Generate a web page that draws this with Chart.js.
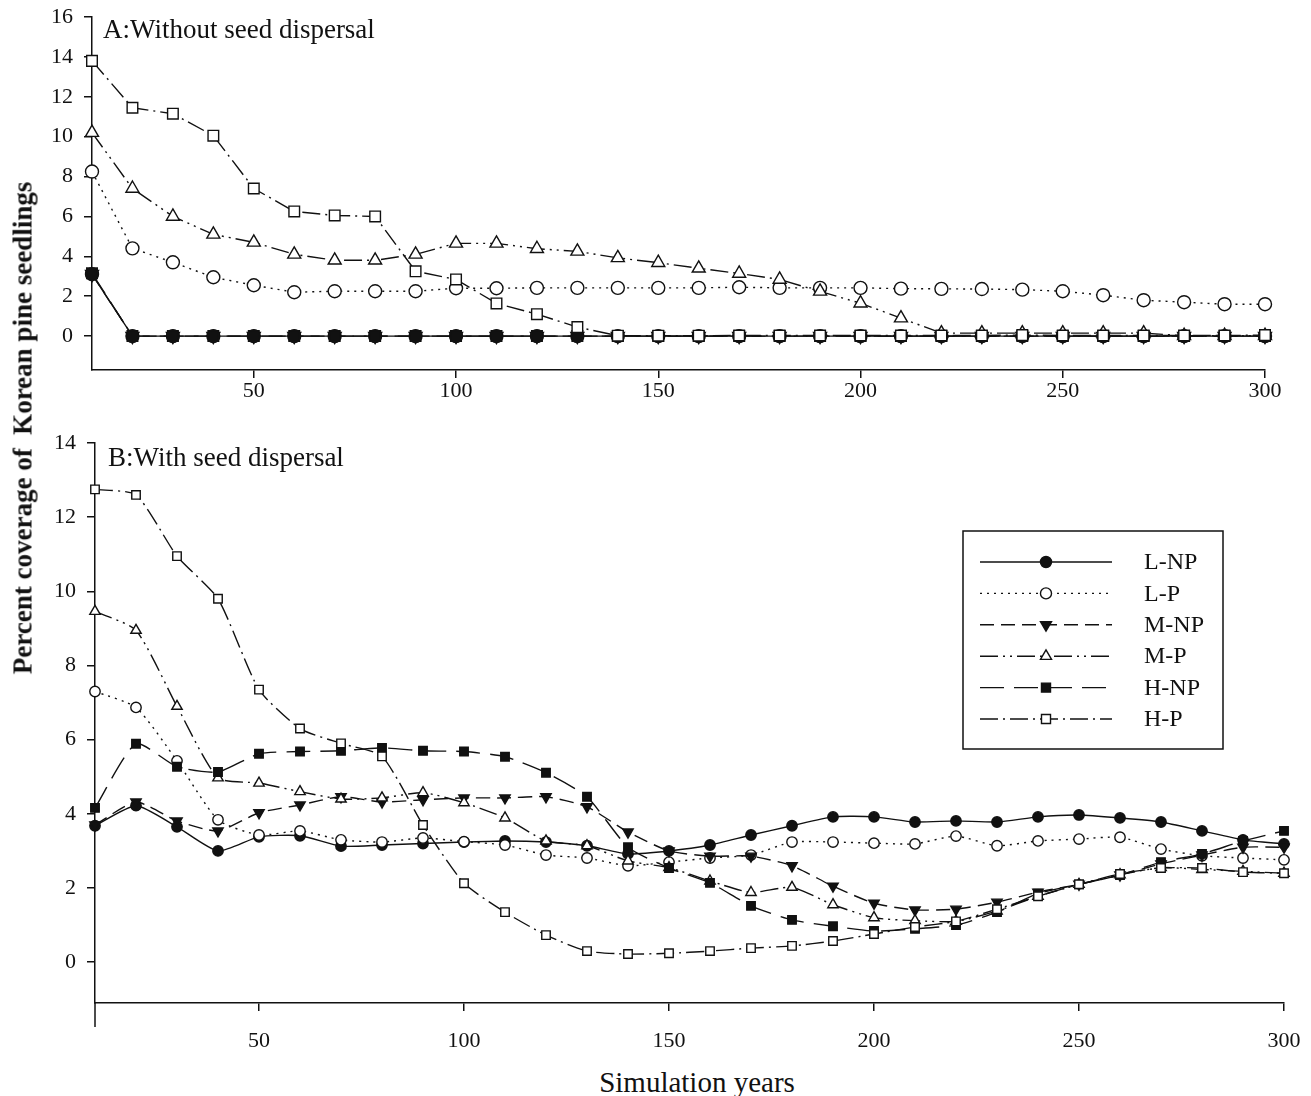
<!DOCTYPE html>
<html>
<head>
<meta charset="utf-8">
<script src="https://cdn.jsdelivr.net/npm/chart.js@4.4.1/dist/chart.umd.min.js"></script>
<style>
  body { margin: 0; background: #fff; }
  #wrap { position: relative; width: 1311px; height: 1096px; font-family: "Liberation Serif", "Times New Roman", serif; color: #111; }
  canvas { position: absolute; left: 0; }
  .lbl { position: absolute; white-space: nowrap; line-height: 1; }
</style>
</head>
<body>
<div id="wrap">
  <canvas id="chartA" width="1311" height="415" style="top:0"></canvas>
  <canvas id="chartB" width="1311" height="640" style="top:425px"></canvas>
  <div class="lbl" style="left:103px; top:16px; font-size:27px;">A:Without seed dispersal</div>
  <div class="lbl" style="left:108px; top:444px; font-size:27px;">B:With seed dispersal</div>
  <div class="lbl" style="left:23px; top:428px; font-size:27px; font-weight:bold; transform: translate(-50%, -50%) rotate(-90deg);">Percent coverage of&nbsp; Korean pine seedlings</div>
  <div class="lbl" style="left:697px; top:1082px; font-size:29px; transform: translate(-50%, -50%);">Simulation years</div>
</div>
<script>
// simulation years (x)
const years = [10, 20, 30, 40, 50, 60, 70, 80, 90, 100, 110, 120, 130, 140, 150,
               160, 170, 180, 190, 200, 210, 220, 230, 240, 250, 260, 270, 280, 290, 300];
const seriesNames = ['L-NP', 'L-P', 'M-NP', 'M-P', 'H-NP', 'H-P'];
const xTicks = [50, 100, 150, 200, 250, 300];
const yTicksA = [0, 2, 4, 6, 8, 10, 12, 14, 16];
const yTicksB = [0, 2, 4, 6, 8, 10, 12, 14];

// A: without seed dispersal
const aLNP = [3.1, 0, 0, 0, 0, 0, 0, 0, 0, 0, 0, 0, 0, 0, 0, 0, 0, 0, 0, 0, 0, 0, 0, 0, 0, 0, 0, 0, 0, 0];
const aLP  = [8.25, 4.4, 3.7, 2.95, 2.55, 2.2, 2.25, 2.25, 2.25, 2.4, 2.4, 2.42, 2.42, 2.42, 2.42,
              2.42, 2.45, 2.42, 2.42, 2.42, 2.38, 2.37, 2.36, 2.33, 2.25, 2.05, 1.8, 1.7, 1.6, 1.6];
const aMNP = [3.1, 0, 0, 0, 0, 0, 0, 0, 0, 0, 0, 0, 0, 0, 0, 0, 0, 0, 0, 0, 0, 0, 0, 0, 0, 0, 0, 0, 0, 0];
const aMP  = [10.2, 7.4, 6.0, 5.1, 4.7, 4.1, 3.8, 3.8, 4.1, 4.65, 4.65, 4.38, 4.25, 3.92, 3.68,
              3.4, 3.14, 2.84, 2.24, 1.65, 0.9, 0.15, 0.15, 0.15, 0.15, 0.15, 0.15, 0.02, 0.02, 0.02];
const aHNP = [3.15, 0, 0, 0, 0, 0, 0, 0, 0, 0, 0, 0, 0, 0, 0, 0, 0, 0, 0, 0, 0, 0, 0, 0, 0, 0, 0, 0, 0, 0];
const aHP  = [13.8, 11.45, 11.15, 10.05, 7.4, 6.25, 6.05, 6.0, 3.25, 2.84, 1.64, 1.1, 0.45, 0.02, 0.02,
              0.02, 0.03, 0.03, 0.03, 0.03, 0.03, 0.03, 0.03, 0.05, 0.03, 0.03, 0.03, 0.03, 0.03, 0.05];

// B: with seed dispersal
const bLNP = [3.68, 4.22, 3.65, 3.0, 3.38, 3.41, 3.13, 3.16, 3.2, 3.24, 3.27, 3.24, 3.14, 2.92, 3.0,
              3.16, 3.43, 3.68, 3.92, 3.92, 3.78, 3.81, 3.78, 3.92, 3.97, 3.89, 3.78, 3.54, 3.3, 3.19];
const bLP  = [7.3, 6.87, 5.43, 3.84, 3.43, 3.54, 3.3, 3.24, 3.35, 3.25, 3.16, 2.89, 2.81, 2.6, 2.7,
              2.81, 2.89, 3.24, 3.24, 3.21, 3.19, 3.4, 3.14, 3.27, 3.32, 3.37, 3.05, 2.87, 2.81, 2.76];
const bMNP = [3.7, 4.32, 3.81, 3.54, 4.03, 4.24, 4.46, 4.32, 4.38, 4.43, 4.43, 4.46, 4.19, 3.51, 3.0,
              2.86, 2.86, 2.6, 2.05, 1.59, 1.41, 1.43, 1.62, 1.89, 2.1, 2.35, 2.65, 2.89, 3.1, 3.1];
const bMP  = [9.46, 8.95, 6.9, 4.97, 4.83, 4.6, 4.4, 4.43, 4.57, 4.3, 3.89, 3.27, 3.14, 2.73, 2.55,
              2.19, 1.88, 2.02, 1.55, 1.2, 1.12, 1.1, 1.38, 1.78, 2.1, 2.36, 2.55, 2.5, 2.45, 2.4];
const bHNP = [4.16, 5.89, 5.27, 5.13, 5.62, 5.68, 5.7, 5.78, 5.7, 5.68, 5.54, 5.11, 4.46, 3.1, 2.54,
              2.14, 1.52, 1.14, 0.97, 0.84, 0.9, 1.0, 1.35, 1.85, 2.1, 2.35, 2.7, 2.92, 3.27, 3.54];
const bHP  = [12.75, 12.6, 10.95, 9.8, 7.35, 6.3, 5.9, 5.55, 3.7, 2.13, 1.35, 0.73, 0.3, 0.22, 0.24,
              0.3, 0.38, 0.44, 0.57, 0.76, 0.95, 1.1, 1.43, 1.78, 2.1, 2.38, 2.54, 2.54, 2.43, 2.4];

// line / marker style per series
const styles = [
  { shape: 'circle',   rot: 0,   filled: true,  dash: [],                  r: 6.5 },
  { shape: 'circle',   rot: 0,   filled: false, dash: [2, 5],              r: 6.5 },
  { shape: 'triangle', rot: 180, filled: true,  dash: [14, 7],             r: 7.5 },
  { shape: 'triangle', rot: 0,   filled: false, dash: [18, 5, 2, 5, 2, 5], r: 7.5 },
  { shape: 'rect',     rot: 0,   filled: true,  dash: [24, 10],            r: 7.5 },
  { shape: 'rect',     rot: 0,   filled: false, dash: [18, 5, 2, 5],       r: 7.5 }
];

const FONT = '"Liberation Serif", "Times New Roman", serif';
const INK = '#111';

function buildDatasets(seriesList, scale, tension) {
  return seriesList.map((vals, i) => {
    const s = styles[i];
    return {
      label: seriesNames[i],
      data: vals.map((v, k) => ({ x: years[k], y: v })),
      order: seriesList.length - i, // later series drawn on top, as in the original
      borderColor: INK,
      borderWidth: 1.4,
      borderDash: s.dash,
      tension: tension,
      pointStyle: s.shape,
      pointRotation: s.rot,
      pointRadius: s.r * scale,
      pointBorderWidth: 1.4,
      pointBorderColor: INK,
      pointBackgroundColor: s.filled ? INK : '#fff',
      clip: false
    };
  });
}

// draws a marker like chart.js does, used for the legend
function marker(ctx, s, x, y, r) {
  ctx.save();
  ctx.setLineDash([]);
  ctx.lineWidth = 1.4;
  ctx.strokeStyle = INK;
  ctx.fillStyle = s.filled ? INK : '#fff';
  ctx.beginPath();
  if (s.shape === 'circle') {
    ctx.arc(x, y, r, 0, Math.PI * 2);
  } else if (s.shape === 'rect') {
    const h = r * Math.SQRT1_2;
    ctx.rect(x - h, y - h, 2 * h, 2 * h);
  } else {
    let a = s.rot * Math.PI / 180;
    for (let k = 0; k < 3; k++) {
      const px = x + Math.sin(a) * r, py = y - Math.cos(a) * r;
      if (k === 0) ctx.moveTo(px, py); else ctx.lineTo(px, py);
      a += 2 * Math.PI / 3;
    }
    ctx.closePath();
  }
  ctx.fill();
  ctx.stroke();
  ctx.restore();
}

const legendBox = {
  id: 'legendBox',
  afterDraw(chart) {
    const ctx = chart.ctx;
    ctx.save();
    ctx.strokeStyle = INK;
    ctx.lineWidth = 1.5;
    ctx.strokeRect(963, 106, 260, 218);
    ctx.font = '24px ' + FONT;
    ctx.fillStyle = INK;
    ctx.textBaseline = 'middle';
    seriesNames.forEach((name, i) => {
      const y = 137 + i * 31.4;
      const s = styles[i];
      ctx.beginPath();
      ctx.lineWidth = 1.4;
      ctx.setLineDash(s.dash);
      ctx.moveTo(980, y);
      ctx.lineTo(1112, y);
      ctx.stroke();
      marker(ctx, s, 1046, y, s.r * 0.85);
      ctx.fillText(name, 1144, y + 1);
    });
    ctx.restore();
  }
};

// short extension of the left axis below the x axis (panel B)
const axisTail = {
  id: 'axisTail',
  afterDraw(chart, args, opts) {
    if (!opts.len) return;
    const ctx = chart.ctx, a = chart.chartArea;
    ctx.save();
    ctx.strokeStyle = INK;
    ctx.lineWidth = 1.5;
    ctx.beginPath();
    ctx.moveTo(a.left, a.bottom);
    ctx.lineTo(a.left, a.bottom + opts.len);
    ctx.stroke();
    ctx.restore();
  }
};

function makeChart(id, datasets, cfg) {
  return new Chart(document.getElementById(id), {
    type: 'line',
    data: { datasets: datasets },
    plugins: cfg.extra,
    options: {
      responsive: false,
      animation: false,
      events: [],
      layout: { padding: { left: 0, right: cfg.padRight, top: cfg.padTop, bottom: 0 } },
      plugins: { legend: { display: false }, tooltip: { enabled: false }, axisTail: { len: cfg.tail } },
      scales: {
        x: {
          type: 'linear', min: 10, max: 300,
          afterBuildTicks: s => { s.ticks = xTicks.map(v => ({ value: v })); },
          afterFit: s => { s.height = cfg.xHeight; s.paddingLeft = 0; s.paddingRight = 0; },
          grid: { drawOnChartArea: false, drawTicks: true, tickLength: 8, color: INK, lineWidth: 1.5 },
          border: { display: true, color: INK, width: 1.5 },
          ticks: { color: INK, font: { family: FONT, size: 22 }, padding: cfg.xPad, maxRotation: 0 }
        },
        y: {
          type: 'linear', min: cfg.yMin, max: cfg.yMax,
          afterBuildTicks: s => { s.ticks = cfg.yTicks.map(v => ({ value: v })); },
          afterFit: s => { s.width = cfg.left; s.paddingTop = 0; s.paddingBottom = 0; },
          grid: { drawOnChartArea: false, drawTicks: true, tickLength: 8, color: INK, lineWidth: 1.5 },
          border: { display: true, color: INK, width: 1.5 },
          ticks: { color: INK, font: { family: FONT, size: 22 }, padding: 11 }
        }
      }
    }
  });
}

makeChart('chartA', buildDatasets([aLNP, aLP, aMNP, aMP, aHNP, aHP], 1, 0), {
  padRight: 46, padTop: 17, xHeight: 45, xPad: 0, left: 92,
  yMin: -1.7, yMax: 16, yTicks: yTicksA, tail: 0, extra: [axisTail]
});

makeChart('chartB', buildDatasets([bLNP, bLP, bMNP, bMP, bHNP, bHP], 0.8, 0.2), {
  padRight: 27, padTop: 18, xHeight: 62, xPad: 17, left: 95,
  yMin: -1.1, yMax: 14, yTicks: yTicksB, tail: 24, extra: [axisTail, legendBox]
});
</script>
</body>
</html>
